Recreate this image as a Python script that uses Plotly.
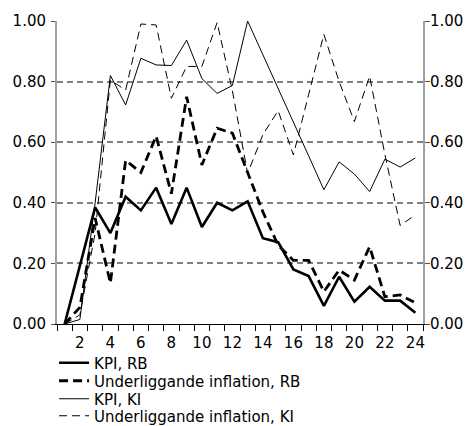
import plotly.graph_objects as go

months = list(range(1, 25))
tick_vals = [2, 4, 6, 8, 10, 12, 14, 16, 18, 20, 22, 24]
y_ticks = [0.0, 0.2, 0.4, 0.6, 0.8, 1.0]

kpi_rb = [0, 0.19, 0.385, 0.30, 0.42, 0.375, 0.45, 0.33, 0.45, 0.32, 0.40, 0.375,
          0.405, 0.283, 0.27, 0.18, 0.158, 0.06, 0.156, 0.074, 0.123, 0.077, 0.077, 0.037]
und_rb = [0, 0.055, 0.35, 0.135, 0.54, 0.50, 0.62, 0.43, 0.75, 0.525, 0.646, 0.63,
          0.50, 0.37, 0.26, 0.21, 0.21, 0.107, 0.178, 0.145, 0.255, 0.09, 0.096, 0.07]
kpi_ki = [0, 0.015, 0.40, 0.82, 0.723, 0.877, 0.855, 0.853, 0.937, 0.81, 0.761, 0.787,
          1.0, 0.89, 0.78, 0.67, 0.555, 0.443, 0.535, 0.495, 0.437, 0.544, 0.518, 0.548]
und_ki = [0, 0.03, 0.30, 0.805, 0.772, 0.99, 0.987, 0.745, 0.85, 0.85, 0.995, 0.77,
          0.497, 0.625, 0.704, 0.558, 0.757, 0.956, 0.80, 0.668, 0.818, 0.56, 0.325, 0.36]

names = ["KPI, RB", "Underliggande inflation, RB", "KPI, KI", "Underliggande inflation, KI"]

FONT = "Verdana, DejaVu Sans, sans-serif"
FS = 15

series = [
    (kpi_rb, names[0], dict(color="black", width=2.6), "legend"),
    (und_rb, names[1], dict(color="black", width=2.8, dash="9px,5px"), "legend2"),
    (kpi_ki, names[2], dict(color="black", width=1), "legend3"),
    (und_ki, names[3], dict(color="black", width=1, dash="8px,5px"), "legend4"),
]

fig = go.Figure()
for vals, nm, ln, lg in series:
    fig.add_trace(go.Scatter(x=months, y=vals, name=nm, mode="lines",
                             line=ln, legend=lg))
# invisible trace to carry the right-hand axis
fig.add_trace(go.Scatter(x=months, y=kpi_rb, yaxis="y2", mode="lines",
                         line=dict(color="rgba(0,0,0,0)", width=0),
                         showlegend=False, hoverinfo="skip"))

# figure is 463x418 so that with the page's 8px body margin it fills 471x426
# plot area in figure coords: left 49, right 415, top 13, bottom 316
leg_x = -0.008
row_centers = [355, 373, 391, 408]
leg_common = dict(x=leg_x, xanchor="left", yanchor="middle",
                  font=dict(family=FONT, size=FS, color="black"),
                  bgcolor="rgba(0,0,0,0)", borderwidth=0)
legends = {}
for i, key in enumerate(["legend", "legend2", "legend3", "legend4"]):
    legends[key] = dict(leg_common, y=(316 - row_centers[i]) / 303)

fig.update_layout(
    width=463, height=418,
    margin=dict(l=49, r=48, t=13, b=102, autoexpand=False),
    paper_bgcolor="white", plot_bgcolor="white",
    font=dict(family=FONT, size=FS, color="black"),
    showlegend=True,
    **legends,
    xaxis=dict(range=[0.5, 24.5], tickmode="array", tickvals=tick_vals,
               ticks="", showgrid=False, zeroline=False, automargin=False,
               showline=True, linecolor="black", linewidth=1,
               tickfont=dict(size=FS), ticklabelstandoff=5,
               minor=dict(ticks="outside", tick0=0.5, dtick=1, ticklen=6,
                          tickcolor="black", tickwidth=1, showgrid=False)),
    yaxis=dict(range=[0, 1], tickmode="array", tickvals=y_ticks, tickformat=".2f",
               ticks="outside", ticklen=4, tickcolor="#505050", automargin=False,
               showline=True, linecolor="#a0a0a0", linewidth=2,
               showgrid=True, gridcolor="#808080", gridwidth=1.6, griddash="6px,4px",
               zeroline=False, tickfont=dict(size=FS), ticklabelstandoff=2),
    yaxis2=dict(range=[0, 1], tickmode="array", tickvals=y_ticks, tickformat=".2f",
                overlaying="y", side="right", automargin=False,
                ticks="outside", ticklen=5, tickcolor="#505050",
                showline=True, linecolor="#a0a0a0", linewidth=2,
                showgrid=False, zeroline=False, tickfont=dict(size=FS),
                ticklabelstandoff=-3),
)

fig.write_html("out.html")
